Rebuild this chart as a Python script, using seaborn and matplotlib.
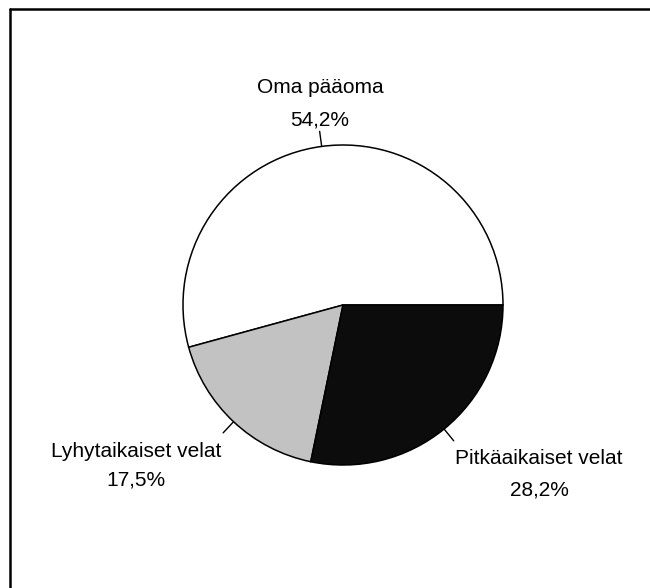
"""Pie chart: capital structure (oma pääoma / velat)."""

import matplotlib.pyplot as plt
import numpy as np
import seaborn as sns
from matplotlib.lines import Line2D

sns.set_theme(style="white")
plt.rcParams["font.family"] = ["Liberation Sans", "DejaVu Sans"]

labels = ["Oma pääoma", "Lyhytaikaiset velat", "Pitkäaikaiset velat"]
shares = [54.2, 17.5, 28.2]
share_text = ["54,2%", "17,5%", "28,2%"]
colors = ["#ffffff", "#c2c2c2", "#0c0c0c"]

W, H = 650, 588
fig = plt.figure(figsize=(W / 100, H / 100), dpi=100)
ax = fig.add_axes([0, 0, 1, 1])

center = (343, H - 305)
radius = 160
wedges, _ = ax.pie(
    shares,
    colors=colors,
    startangle=0,
    counterclock=True,
    center=center,
    radius=radius,
    wedgeprops=dict(edgecolor="black", linewidth=1.1),
)
ax.set_xlim(0, W)
ax.set_ylim(0, H)
ax.set_aspect("equal")
ax.axis("off")

# short leader lines at the wedge midpoints
for w in wedges:
    mid = np.deg2rad((w.theta1 + w.theta2) / 2)
    r0, r1 = radius, radius * 1.095
    ax.plot(
        [center[0] + r0 * np.cos(mid), center[0] + r1 * np.cos(mid)],
        [center[1] + r0 * np.sin(mid), center[1] + r1 * np.sin(mid)],
        color="black",
        linewidth=1.0,
    )

# label positions (pixel coords from top): x centre, baseline of line 1, baseline of line 2
label_pos = [(320, 93, 126), (136, 457, 486), (539, 464, 495)]
for name, pct, (x, y1, y2) in zip(labels, share_text, label_pos):
    ax.text(x, H - y1, name, ha="center", va="baseline", fontsize=15, color="black")
    ax.text(x, H - y2, pct, ha="center", va="baseline", fontsize=15, color="black")

# scanned frame: only top and left edges visible
fig.add_artist(Line2D([10 / W, 10 / W], [0, 1 - 9 / H], color="black", linewidth=1.8))
fig.add_artist(Line2D([10 / W, 1], [1 - 9 / H, 1 - 9 / H], color="black", linewidth=1.8))

fig.savefig("out.png", dpi=100)
